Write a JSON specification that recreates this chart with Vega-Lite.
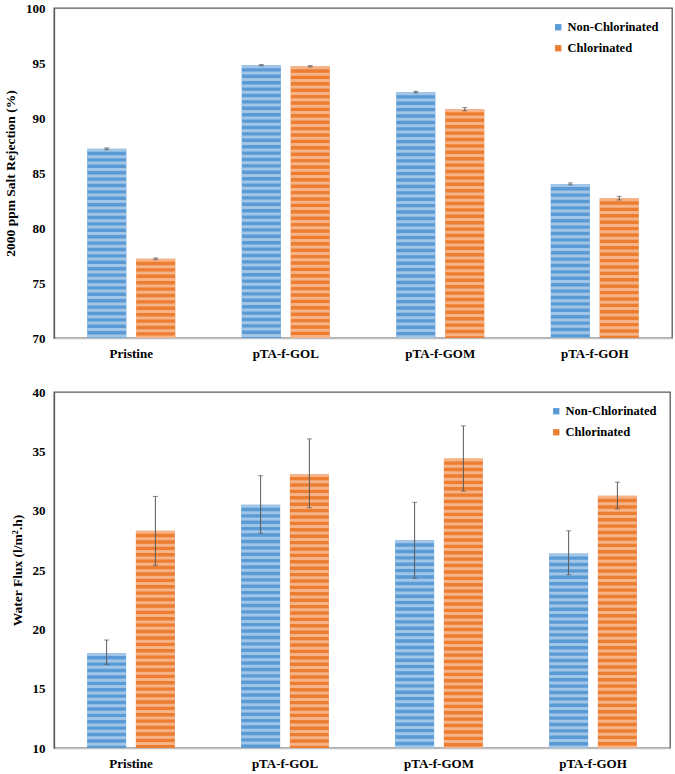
{
  "$schema": "https://vega.github.io/schema/vega-lite/v6.json",
  "padding": {"left": 2, "top": 1, "right": 3, "bottom": 2},
  "spacing": 24,
  "config": {
    "font": "Liberation Serif",
    "view": {"stroke": "#595959", "strokeWidth": 1.3},
    "axis": {"labelFont": "Liberation Serif", "labelFontWeight": "bold", "labelFontSize": 13, "labelColor": "#000", "titleFont": "Liberation Serif", "titleFontWeight": "bold", "titleFontSize": 13.5, "titleColor": "#000", "grid": false, "ticks": false},
    "legend": {"orient": "top-right", "offset": 13, "labelFont": "Liberation Serif", "labelFontWeight": "bold", "labelFontSize": 12.5, "labelColor": "#000", "labelOffset": 3, "symbolType": "square", "symbolSize": 40, "symbolStrokeWidth": 0, "rowPadding": 8, "title": null}
  },
  "datasets": {
    "rej": [
      {"cat": "Pristine", "series": "Non-Chlorinated", "value": 87.2, "lo": 87.12, "hi": 87.28},
      {"cat": "Pristine", "series": "Chlorinated", "value": 77.2, "lo": 77.12, "hi": 77.28},
      {"cat": "pTA-f-GOL", "series": "Non-Chlorinated", "value": 94.8, "lo": 94.74, "hi": 94.86},
      {"cat": "pTA-f-GOL", "series": "Chlorinated", "value": 94.7, "lo": 94.63, "hi": 94.76},
      {"cat": "pTA-f-GOM", "series": "Non-Chlorinated", "value": 92.35, "lo": 92.28, "hi": 92.43},
      {"cat": "pTA-f-GOM", "series": "Chlorinated", "value": 90.8, "lo": 90.65, "hi": 90.95},
      {"cat": "pTA-f-GOH", "series": "Non-Chlorinated", "value": 84.0, "lo": 83.92, "hi": 84.1},
      {"cat": "pTA-f-GOH", "series": "Chlorinated", "value": 82.7, "lo": 82.55, "hi": 82.88}
    ],
    "flux": [
      {"cat": "Pristine", "series": "Non-Chlorinated", "value": 18.0, "lo": 17.05, "hi": 19.1},
      {"cat": "Pristine", "series": "Chlorinated", "value": 28.3, "lo": 25.4, "hi": 31.2},
      {"cat": "pTA-f-GOL", "series": "Non-Chlorinated", "value": 30.5, "lo": 28.1, "hi": 32.95},
      {"cat": "pTA-f-GOL", "series": "Chlorinated", "value": 33.1, "lo": 30.25, "hi": 36.05},
      {"cat": "pTA-f-GOM", "series": "Non-Chlorinated", "value": 27.5, "lo": 24.3, "hi": 30.7},
      {"cat": "pTA-f-GOM", "series": "Chlorinated", "value": 34.4, "lo": 31.65, "hi": 37.15},
      {"cat": "pTA-f-GOH", "series": "Non-Chlorinated", "value": 26.4, "lo": 24.6, "hi": 28.3},
      {"cat": "pTA-f-GOH", "series": "Chlorinated", "value": 31.25, "lo": 30.15, "hi": 32.4}
    ]
  },
  "resolve": {"scale": {"color": "independent", "y": "independent", "x": "independent", "xOffset": "independent"}, "legend": {"color": "independent"}},
  "vconcat": [
    {
      "width": 618,
      "height": 330,
      "data": {"name": "rej"},
      "encoding": {
        "x": {"field": "cat", "type": "nominal", "sort": null, "scale": {"paddingInner": 0.43, "paddingOuter": 0.215}, "axis": {"title": null, "labelAngle": 0, "labelPadding": 9, "domainColor": "#BFBFBF", "domainWidth": 1.3}},
        "xOffset": {"field": "series", "type": "nominal", "scale": {"domain": ["Non-Chlorinated", "Chlorinated"], "paddingInner": 0.2, "paddingOuter": 0}}
      },
      "layer": [
        {
          "mark": {"type": "bar", "clip": true},
          "encoding": {
            "y": {"field": "value", "type": "quantitative", "scale": {"domain": [70, 100], "nice": false, "zero": false}, "axis": {"title": "2000 ppm Salt Rejection (%)", "values": [70, 75, 80, 85, 90, 95, 100], "labelPadding": 9, "titlePadding": 8, "domainColor": "#595959", "domainWidth": 1.3}},
            "y2": {"datum": 70},
            "color": {"field": "series", "type": "nominal", "scale": {"domain": ["Non-Chlorinated", "Chlorinated"], "range": ["#5B9BD5", "#ED7D31"]}}
          }
        },
        {
          "mark": {"type": "rule", "strokeWidth": 39, "strokeCap": "butt", "strokeDash": [3, 3.4], "opacity": 0.7, "clip": true},
          "encoding": {
            "y": {"field": "value", "type": "quantitative"},
            "y2": {"datum": 70},
            "color": {"condition": {"test": "datum.series === 'Chlorinated'", "value": "#F8CBAD"}, "value": "#BDD7EE"}
          }
        },
        {
          "mark": {"type": "rule", "color": "#595959", "strokeWidth": 1},
          "encoding": {"y": {"field": "lo", "type": "quantitative"}, "y2": {"field": "hi"}}
        },
        {
          "mark": {"type": "tick", "color": "#595959", "thickness": 1, "size": 5, "orient": "horizontal"},
          "encoding": {"y": {"field": "hi", "type": "quantitative"}}
        },
        {
          "mark": {"type": "tick", "color": "#595959", "thickness": 1, "size": 5, "orient": "horizontal"},
          "encoding": {"y": {"field": "lo", "type": "quantitative"}}
        }
      ]
    },
    {
      "width": 616,
      "height": 356,
      "data": {"name": "flux"},
      "encoding": {
        "x": {"field": "cat", "type": "nominal", "sort": null, "scale": {"paddingInner": 0.43, "paddingOuter": 0.215}, "axis": {"title": null, "labelAngle": 0, "labelPadding": 9, "domainColor": "#BFBFBF", "domainWidth": 1.3}},
        "xOffset": {"field": "series", "type": "nominal", "scale": {"domain": ["Non-Chlorinated", "Chlorinated"], "paddingInner": 0.2, "paddingOuter": 0}}
      },
      "layer": [
        {
          "mark": {"type": "bar", "clip": true},
          "encoding": {
            "y": {"field": "value", "type": "quantitative", "scale": {"domain": [10, 40], "nice": false, "zero": false}, "axis": {"title": "Water Flux (l/m².h)", "values": [10, 15, 20, 25, 30, 35, 40], "labelPadding": 9, "titlePadding": 8, "domainColor": "#595959", "domainWidth": 1.3}},
            "y2": {"datum": 10},
            "color": {"field": "series", "type": "nominal", "scale": {"domain": ["Non-Chlorinated", "Chlorinated"], "range": ["#5B9BD5", "#ED7D31"]}}
          }
        },
        {
          "mark": {"type": "rule", "strokeWidth": 39, "strokeCap": "butt", "strokeDash": [3, 3.4], "opacity": 0.7, "clip": true},
          "encoding": {
            "y": {"field": "value", "type": "quantitative"},
            "y2": {"datum": 10},
            "color": {"condition": {"test": "datum.series === 'Chlorinated'", "value": "#F8CBAD"}, "value": "#BDD7EE"}
          }
        },
        {
          "mark": {"type": "rule", "color": "#595959", "strokeWidth": 1},
          "encoding": {"y": {"field": "lo", "type": "quantitative"}, "y2": {"field": "hi"}}
        },
        {
          "mark": {"type": "tick", "color": "#595959", "thickness": 1, "size": 5, "orient": "horizontal"},
          "encoding": {"y": {"field": "hi", "type": "quantitative"}}
        },
        {
          "mark": {"type": "tick", "color": "#595959", "thickness": 1, "size": 5, "orient": "horizontal"},
          "encoding": {"y": {"field": "lo", "type": "quantitative"}}
        }
      ]
    }
  ]
}
